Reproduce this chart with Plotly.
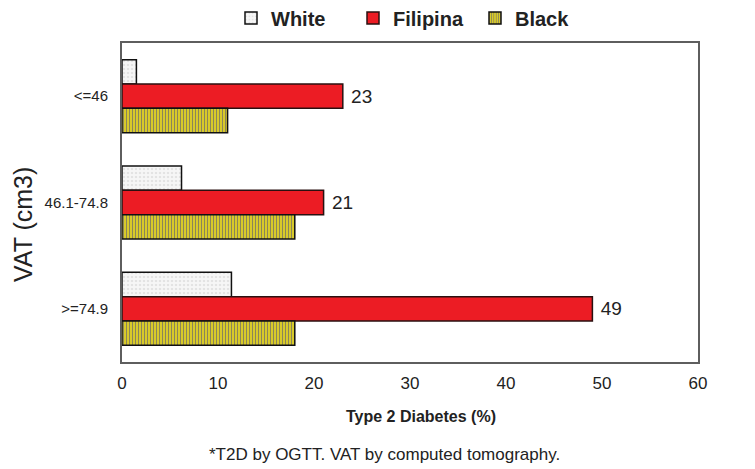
import plotly.graph_objects as go

categories = ["<=46", "46.1-74.8", ">=74.9"]
white_vals = [1.5, 6.2, 11.4]
filipina_vals = [23, 21, 49]
black_vals = [11, 18, 18]
series_names = ["White", "Filipina", "Black"]
x_ticks = [0, 10, 20, 30, 40, 50, 60]

W, H = 755, 469
L, R, T, B = 114, 65, 35, 115
pw = W - L - R
ph = H - T - B

def px(xp):
    return (xp - L) / pw

def py(yp):
    return (H - B - yp) / ph

fig = go.Figure()
fig.add_trace(go.Bar(
    y=categories, x=white_vals, name=series_names[0], orientation="h",
    marker=dict(color="#f3f3f3", line=dict(color="#111111", width=1.5),
                pattern=dict(shape=".", fgcolor="#cfcfcf", bgcolor="#f6f6f6", size=4, solidity=0.3)),
))
fig.add_trace(go.Bar(
    y=categories, x=filipina_vals, name=series_names[1], orientation="h",
    marker=dict(color="#ec1c24", line=dict(color="#2a1010", width=1.5)),
    text=[str(v) for v in filipina_vals], texttemplate=" %{text}", textposition="outside",
    textfont=dict(family="Liberation Sans, Arial, sans-serif", size=19, color="#222222"),
    cliponaxis=False,
))
fig.add_trace(go.Bar(
    y=categories, x=black_vals, name=series_names[2], orientation="h",
    marker=dict(color="#e8d820", line=dict(color="#111111", width=1.5),
                pattern=dict(shape="|", fgcolor="#2e3192", bgcolor="#e8d820", size=3, solidity=0.45)),
))

fig.update_layout(
    width=W, height=H,
    margin=dict(l=L, r=R, t=T, b=B, autoexpand=False),
    paper_bgcolor="white", plot_bgcolor="white",
    barmode="group", bargap=0.313, bargroupgap=0,
    font=dict(family="Liberation Sans, Arial, sans-serif", color="#222222"),
    showlegend=True,
    legend=dict(
        orientation="h", x=px(223), xanchor="left",
        y=1 - 10 / H, yref="container", yanchor="middle",
        font=dict(size=20, weight="bold", color="#222222"),
        entrywidth=77, entrywidthmode="pixels", traceorder="normal",
        bgcolor="rgba(0,0,0,0)",
    ),
    xaxis=dict(
        range=[0, 60], tickvals=x_ticks, ticktext=[str(v) for v in x_ticks],
        showgrid=False, zeroline=False,
        showline=True, mirror=True, linecolor="#5e5e5e", linewidth=2,
        ticks="", ticklabelstandoff=5,
        tickfont=dict(size=17, color="#222222"),
    ),
    yaxis=dict(
        categoryorder="array", categoryarray=categories,
        range=[2.5, -0.5],
        showgrid=False, zeroline=False,
        showline=True, mirror=True, linecolor="#5e5e5e", linewidth=2,
        ticks="", ticklabelstandoff=9,
        tickfont=dict(size=15, color="#222222"),
    ),
    annotations=[
        dict(text="<b>Type 2 Diabetes (%)</b>", xref="paper", yref="paper",
             x=px(413), y=py(408), xanchor="center", yanchor="middle", showarrow=False,
             font=dict(size=16, color="#222222")),
        dict(text="*T2D by OGTT. VAT by computed tomography.", xref="paper", yref="paper",
             x=px(376), y=py(446), xanchor="center", yanchor="middle", showarrow=False,
             font=dict(size=17, color="#222222")),
        dict(text="VAT (cm3)", xref="paper", yref="paper", textangle=-90,
             x=px(15), y=py(217), xanchor="center", yanchor="middle", showarrow=False,
             font=dict(size=25, color="#222222")),
    ],
)

fig.write_html("out.html")
